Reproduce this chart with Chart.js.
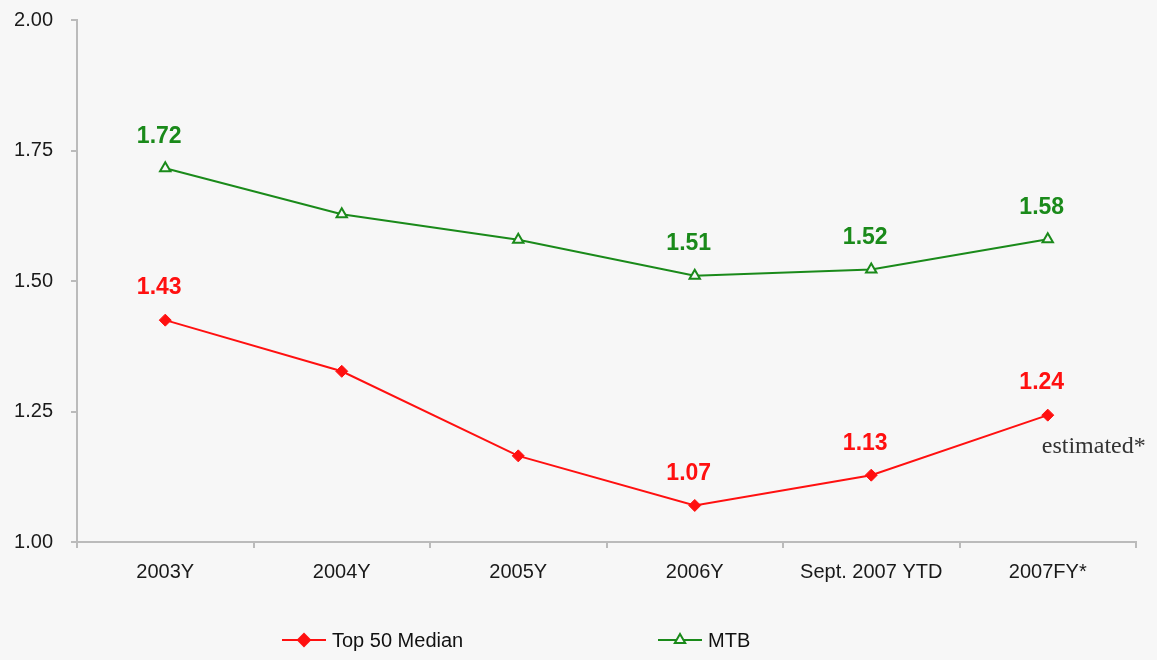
<!DOCTYPE html>
<html>
<head>
<meta charset="utf-8">
<script src="https://cdn.jsdelivr.net/npm/chart.js@4/dist/chart.umd.min.js"></script>
<style>
  html, body { margin: 0; padding: 0; background: #f7f7f7; }
  #wrap { width: 1157px; height: 660px; position: relative; }
</style>
</head>
<body>
<div id="wrap"><canvas id="c" width="1157" height="660"></canvas></div>
<script>
const categories = ['2003Y', '2004Y', '2005Y', '2006Y', 'Sept. 2007 YTD', '2007FY*'];
const top50Median = [1.425, 1.327, 1.165, 1.07, 1.128, 1.243];
const mtb = [1.716, 1.628, 1.579, 1.51, 1.522, 1.58];
const top50Labels = ['1.43', null, null, '1.07', '1.13', '1.24'];
const mtbLabels = ['1.72', null, null, '1.51', '1.52', '1.58'];
const yTicks = [1.00, 1.25, 1.50, 1.75, 2.00];
const noteText = 'estimated*';

const RED = '#ff1010';
const GREEN = '#1a8a1a';
const BG = '#f7f7f7';

const labelPlugin = {
  id: 'pointLabels',
  afterDatasetsDraw(chart) {
    const ctx = chart.ctx;
    ctx.save();
    chart.data.datasets.forEach((ds, i) => {
      const meta = chart.getDatasetMeta(i);
      ctx.font = 'bold 23px "Liberation Sans", Arial, sans-serif';
      ctx.fillStyle = ds.borderColor;
      ctx.textAlign = 'center';
      ctx.textBaseline = 'middle';
      meta.data.forEach((pt, j) => {
        const t = ds.valueLabels[j];
        if (t) ctx.fillText(t, pt.x - 6, pt.y - 32);
      });
    });
    // note beside last red point
    const m0 = chart.getDatasetMeta(0);
    const last = m0.data[m0.data.length - 1];
    ctx.font = '24px "Liberation Serif", "Times New Roman", serif';
    ctx.fillStyle = '#333333';
    ctx.textAlign = 'center';
    ctx.textBaseline = 'middle';
    ctx.fillText(noteText, last.x + 46, last.y + 32);

    // custom legend
    const legendY = 640;
    const items = [{ x: 282, ds: chart.data.datasets[0] }, { x: 658, ds: chart.data.datasets[1] }];
    items.forEach(it => {
      const ds = it.ds;
      ctx.strokeStyle = ds.borderColor;
      ctx.lineWidth = 2;
      ctx.beginPath();
      ctx.moveTo(it.x, legendY);
      ctx.lineTo(it.x + 44, legendY);
      ctx.stroke();
      ctx.fillStyle = ds.pointBackgroundColor;
      ctx.strokeStyle = ds.borderColor;
      ctx.lineWidth = 2;
      Chart.helpers.drawPoint(ctx, {pointStyle: ds.pointStyle, radius: ds.pointRadius, borderWidth: 2, rotation: 0}, it.x + 22, legendY);
      ctx.font = '20px "Liberation Sans", Arial, sans-serif';
      ctx.fillStyle = '#111111';
      ctx.textAlign = 'left';
      ctx.textBaseline = 'middle';
      ctx.fillText(ds.label, it.x + 50, legendY + 1);
    });
    ctx.restore();
  }
};

new Chart(document.getElementById('c'), {
  type: 'line',
  data: {
    labels: categories,
    datasets: [
      {
        label: 'Top 50 Median',
        data: top50Median,
        valueLabels: top50Labels,
        borderColor: RED,
        backgroundColor: RED,
        pointBackgroundColor: RED,
        pointBorderColor: RED,
        pointStyle: 'rectRot',
        pointRadius: 6,
        pointBorderWidth: 1,
        borderWidth: 2,
        tension: 0
      },
      {
        label: 'MTB',
        data: mtb,
        valueLabels: mtbLabels,
        borderColor: GREEN,
        backgroundColor: BG,
        pointBackgroundColor: BG,
        pointBorderColor: GREEN,
        pointStyle: 'triangle',
        pointRadius: 6,
        pointBorderWidth: 2,
        borderWidth: 2,
        tension: 0
      }
    ]
  },
  options: {
    responsive: false,
    animation: false,
    devicePixelRatio: 1,
    layout: { padding: { top: 20, right: 21, bottom: 78, left: 0 } },
    plugins: { legend: { display: false }, tooltip: { enabled: false } },
    scales: {
      x: {
        type: 'category',
        offset: true,
        grid: { offset: true, drawOnChartArea: false, drawTicks: true, tickLength: 6, color: '#bbbbbb', lineWidth: 2 },
        border: { display: true, color: '#bbbbbb', width: 2 },
        ticks: { color: '#1a1a1a', font: { family: '"Liberation Sans", Arial, sans-serif', size: 20 }, padding: 12, maxRotation: 0, autoSkip: false },
        afterFit(s) { s.height = 40; s.paddingLeft = 0; s.paddingRight = 0; }
      },
      y: {
        min: 1.0,
        max: 2.0,
        afterBuildTicks(s) { s.ticks = yTicks.map(v => ({ value: v })); },
        grid: { drawOnChartArea: false, drawTicks: true, tickLength: 6, color: '#bbbbbb', lineWidth: 2 },
        border: { display: true, color: '#bbbbbb', width: 2 },
        ticks: { color: '#1a1a1a', font: { family: '"Liberation Sans", Arial, sans-serif', size: 20 }, padding: 18, callback: v => Number(v).toFixed(2) },
        afterFit(s) { s.width = 77; s.paddingTop = 0; s.paddingBottom = 0; }
      }
    }
  },
  plugins: [labelPlugin]
});
</script>
</body>
</html>
